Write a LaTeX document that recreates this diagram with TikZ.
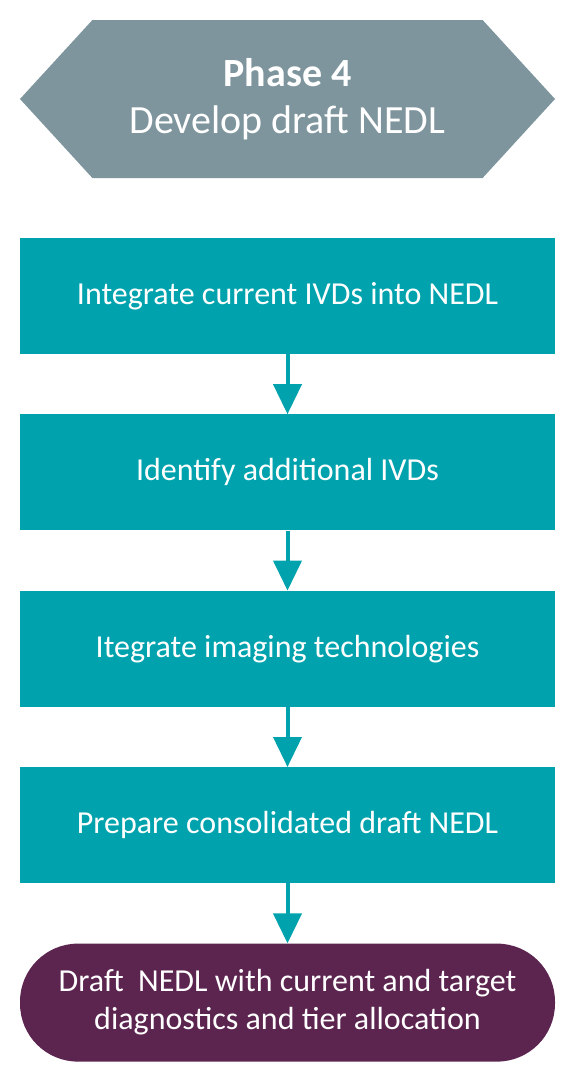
\documentclass[tikz,border=0pt]{standalone}
\usepackage{fontspec}
\setmainfont{Carlito}
\usetikzlibrary{shapes.symbols, arrows.meta, positioning}
\definecolor{phasegray}{HTML}{7E959D}
\definecolor{stepteal}{HTML}{00A3AD}
\definecolor{resultplum}{HTML}{5C2550}

\begin{document}
\begin{tikzpicture}[x=1pt, y=1pt,
    phasebox/.style={signal, signal to=west and east, signal pointer angle=95, fill=phasegray, text=white, minimum width=535pt, minimum height=158pt, inner sep=0pt, align=center, font=\fontsize{40}{47}\selectfont},
    stepbox/.style={rectangle, fill=stepteal, text=white, minimum width=535pt, minimum height=116pt, font=\fontsize{32}{40}\selectfont},
    endbox/.style={rectangle, rounded corners=58pt, fill=resultplum, text=white, minimum width=535pt, minimum height=118pt, align=center, font=\fontsize{32}{38}\selectfont},
    flow/.style={-{Triangle[width=28pt,length=30pt]}, line width=4pt, draw=stepteal}]
    \useasboundingbox (0,0) rectangle (575,-1082);

    % Phase header
    \node[phasebox] (Phase) at (287.5,-99) {\textbf{Phase 4}\\Develop draft NEDL};

    % Steps
    \node[stepbox] (Integrate) at (287.5,-296) {Integrate current IVDs into NEDL};
    \node[stepbox, below=60pt of Integrate] (Identify) {Identify additional IVDs};
    \node[stepbox, below=60pt of Identify] (Imaging) {Itegrate imaging technologies};
    \node[stepbox, below=60pt of Imaging] (Prepare) {Prepare consolidated draft NEDL};
    \node[endbox, below=60pt of Prepare] (Draft) {Draft~ NEDL with current and target\\diagnostics and tier allocation};

    % Flow arrows
    \draw[flow] (Integrate.south) -- (Identify.north);
    \draw[flow] (Identify.south) -- (Imaging.north);
    \draw[flow] (Imaging.south) -- (Prepare.north);
    \draw[flow] (Prepare.south) -- (Draft.north);
\end{tikzpicture}
\end{document}
